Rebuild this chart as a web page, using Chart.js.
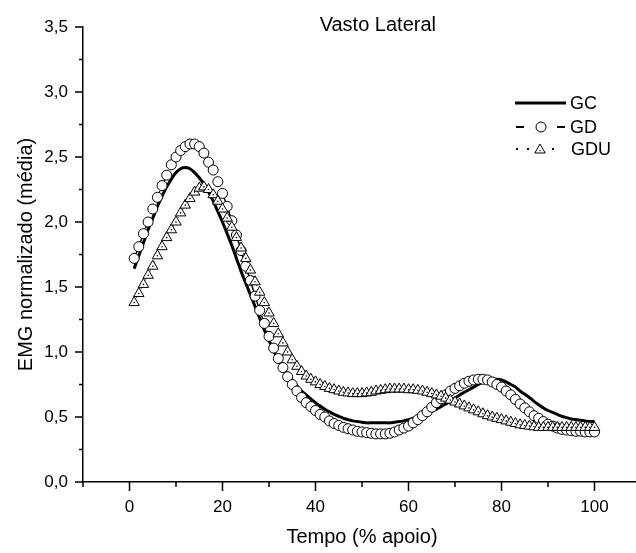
<!DOCTYPE html>
<html>
<head>
<meta charset="utf-8">
<script src="https://cdn.jsdelivr.net/npm/chart.js@4.4.1/dist/chart.umd.min.js"></script>
<style>
  html, body { margin: 0; padding: 0; background: #fff; overflow: hidden; }
  canvas { display: block; }
</style>
</head>
<body>
<canvas id="chart" width="656" height="553"></canvas>
<script>
const tempo = [1,2,3,4,5,6,7,8,9,10,11,12,13,14,15,16,17,18,19,20,
  21,22,23,24,25,26,27,28,29,30,31,32,33,34,35,36,37,38,39,40,
  41,42,43,44,45,46,47,48,49,50,51,52,53,54,55,56,57,58,59,60,
  61,62,63,64,65,66,67,68,69,70,71,72,73,74,75,76,77,78,79,80,
  81,82,83,84,85,86,87,88,89,90,91,92,93,94,95,96,97,98,99,100];

const gc = [1.64,1.74,1.84,1.94,2.03,2.12,2.20,2.27,2.33,2.38,
  2.41,2.42,2.41,2.38,2.34,2.29,2.23,2.16,2.08,2.00,
  1.91,1.82,1.72,1.62,1.53,1.44,1.35,1.26,1.17,1.09,
  1.01,0.94,0.88,0.83,0.78,0.74,0.70,0.67,0.64,0.61,
  0.585,0.56,0.54,0.52,0.505,0.49,0.48,0.47,0.465,0.46,
  0.455,0.455,0.455,0.455,0.455,0.455,0.46,0.465,0.47,0.48,
  0.49,0.50,0.51,0.53,0.545,0.56,0.58,0.60,0.62,0.645,
  0.67,0.69,0.71,0.73,0.75,0.77,0.78,0.79,0.79,0.785,
  0.77,0.75,0.73,0.70,0.675,0.65,0.62,0.595,0.57,0.55,
  0.535,0.52,0.505,0.495,0.485,0.48,0.475,0.47,0.465,0.465];

const gd = [1.72,1.81,1.91,2.00,2.10,2.19,2.28,2.36,2.44,2.50,
  2.55,2.58,2.60,2.60,2.58,2.53,2.46,2.40,2.31,2.22,
  2.12,2.01,1.90,1.78,1.66,1.55,1.43,1.32,1.22,1.12,
  1.03,0.95,0.88,0.81,0.75,0.70,0.65,0.61,0.58,0.55,
  0.52,0.50,0.47,0.45,0.435,0.42,0.41,0.40,0.39,0.385,
  0.38,0.375,0.37,0.37,0.37,0.375,0.385,0.40,0.415,0.43,
  0.455,0.48,0.51,0.54,0.575,0.61,0.64,0.67,0.70,0.72,
  0.74,0.76,0.775,0.785,0.79,0.79,0.785,0.77,0.75,0.73,
  0.70,0.67,0.635,0.60,0.57,0.54,0.51,0.49,0.465,0.445,
  0.43,0.415,0.405,0.40,0.395,0.39,0.39,0.385,0.385,0.385];

const gdu = [1.38,1.45,1.52,1.59,1.66,1.74,1.81,1.88,1.94,2.00,
  2.07,2.13,2.18,2.23,2.26,2.27,2.25,2.21,2.16,2.10,
  2.03,1.96,1.88,1.80,1.72,1.63,1.54,1.46,1.38,1.30,
  1.22,1.14,1.07,1.00,0.94,0.89,0.85,0.815,0.79,0.77,
  0.75,0.735,0.72,0.71,0.70,0.69,0.685,0.68,0.68,0.68,
  0.685,0.69,0.70,0.705,0.71,0.715,0.715,0.715,0.715,0.71,
  0.71,0.705,0.70,0.69,0.68,0.67,0.66,0.645,0.63,0.615,
  0.60,0.585,0.57,0.555,0.54,0.525,0.51,0.50,0.49,0.48,
  0.47,0.46,0.45,0.44,0.435,0.43,0.425,0.42,0.42,0.42,
  0.42,0.42,0.42,0.42,0.42,0.42,0.42,0.42,0.42,0.42];

const xTicks = { min: -10, max: 110, step: 10 };
const yTicks = { min: 0, max: 3.5, step: 0.25 };
const chartTitle = "Vasto Lateral";
const legendItems = ["GC", "GD", "GDU"];

const FONT = "'Liberation Sans', Arial, sans-serif";

function pts(values) {
  return tempo.map((t, i) => ({ x: t, y: values[i] }));
}

// tick marks drawn by hand: long on labelled values, short in between
const tickMarks = {
  id: "tickMarks",
  afterDraw(chart) {
    const ctx = chart.ctx;
    const xs = chart.scales.x, ys = chart.scales.y;
    const a = chart.chartArea;
    ctx.save();
    ctx.strokeStyle = "#000";
    ctx.lineWidth = 1.5;
    ctx.beginPath();
    xs.ticks.forEach((t) => {
      const px = xs.getPixelForValue(t.value);
      const len = t.value % 20 === 0 ? 9 : 5;
      ctx.moveTo(px, a.bottom);
      ctx.lineTo(px, a.bottom + len);
    });
    ys.ticks.forEach((t) => {
      const py = ys.getPixelForValue(t.value);
      const major = Math.abs(t.value * 2 - Math.round(t.value * 2)) < 1e-6;
      ctx.moveTo(a.left, py);
      ctx.lineTo(a.left - (major ? 8 : 4), py);
    });
    ctx.stroke();
    ctx.restore();
  },
};

// title inside plot + hand drawn legend
const decorations = {
  id: "decorations",
  afterDraw(chart) {
    const ctx = chart.ctx;
    const a = chart.chartArea;
    const xs = chart.scales.x;
    ctx.save();
    ctx.fillStyle = "#000";
    ctx.textBaseline = "middle";
    ctx.textAlign = "center";
    ctx.font = "20px " + FONT;
    ctx.fillText(chartTitle, xs.getPixelForValue(53.4), a.top - 2);

    const lx = a.left + 432;
    const rows = [a.top + 76, a.top + 100, a.top + 122];
    ctx.strokeStyle = "#000";

    // GC
    ctx.lineWidth = 3;
    ctx.beginPath();
    ctx.moveTo(lx, rows[0]);
    ctx.lineTo(lx + 51, rows[0]);
    ctx.stroke();

    // GD
    ctx.lineWidth = 2;
    ctx.beginPath();
    ctx.moveTo(lx + 1, rows[1]); ctx.lineTo(lx + 9, rows[1]);
    ctx.moveTo(lx + 42, rows[1]); ctx.lineTo(lx + 50, rows[1]);
    ctx.stroke();
    ctx.lineWidth = 1;
    ctx.beginPath();
    ctx.arc(lx + 26, rows[1], 5, 0, Math.PI * 2);
    ctx.stroke();

    // GDU
    [2, 13, 38].forEach((dx) => {
      ctx.fillRect(lx + dx - 1, rows[2] - 1, 2, 2);
    });
    const cx = lx + 25, cy = rows[2] + 1, r = 6;
    ctx.beginPath();
    ctx.moveTo(cx, cy - r);
    ctx.lineTo(cx + r * 0.866, cy + r / 2);
    ctx.lineTo(cx - r * 0.866, cy + r / 2);
    ctx.closePath();
    ctx.stroke();
    ctx.fillRect(cx - 0.5, cy, 1.2, 1.2);

    ctx.textAlign = "left";
    ctx.font = "18px " + FONT;
    legendItems.forEach((name, i) => {
      ctx.fillText(name, lx + 55 + (i === 2 ? 1 : 0), rows[i] + 1);
    });
    ctx.restore();
  },
};

new Chart(document.getElementById("chart"), {
  type: "line",
  data: {
    datasets: [
      {
        label: "GDU dots",
        data: pts(gdu),
        showLine: false,
        pointStyle: "circle",
        pointRadius: 0.8,
        pointBackgroundColor: "#000",
        pointBorderWidth: 0,
        order: 0,
      },
      {
        label: "GDU",
        data: pts(gdu),
        borderColor: "#000",
        borderWidth: 1,
        borderDash: [1, 4],
        pointStyle: "triangle",
        pointRadius: 6,
        pointBackgroundColor: "#fff",
        pointBorderColor: "#000",
        pointBorderWidth: 1,
        order: 1,
      },
      {
        label: "GD",
        data: pts(gd),
        borderColor: "#000",
        borderWidth: 1.5,
        borderDash: [8, 8],
        pointStyle: "circle",
        pointRadius: 5,
        pointBackgroundColor: "#fff",
        pointBorderColor: "#000",
        pointBorderWidth: 1,
        order: 2,
      },
      {
        label: "GC",
        data: pts(gc),
        borderColor: "#000",
        borderWidth: 3,
        pointRadius: 0,
        tension: 0.3,
        order: 3,
      },
    ],
  },
  options: {
    responsive: false,
    animation: false,
    events: [],
    layout: { padding: { top: 27, left: 0, right: 0, bottom: 0 } },
    plugins: {
      legend: { display: false },
      tooltip: { enabled: false },
      title: { display: false },
    },
    scales: {
      x: {
        type: "linear",
        min: xTicks.min,
        max: xTicks.max,
        afterFit: (s) => { s.height = 71; },
        border: { display: true, color: "#000", width: 1.5 },
        grid: { display: false, drawTicks: false },
        ticks: {
          stepSize: xTicks.step,
          autoSkip: false,
          maxRotation: 0,
          padding: 15,
          color: "#000",
          font: { family: FONT, size: 17 },
          callback: (v) => (v % 20 === 0 && v >= 0 && v <= 100 ? String(v) : ""),
        },
        title: {
          display: true,
          text: "Tempo (% apoio)",
          color: "#000",
          font: { family: FONT, size: 20 },
          padding: { top: 0, bottom: 4 },
        },
      },
      y: {
        min: yTicks.min,
        max: yTicks.max,
        afterFit: (s) => { s.width = 83; },
        border: { display: true, color: "#000", width: 1.5 },
        grid: { display: false, drawTicks: false },
        ticks: {
          stepSize: yTicks.step,
          autoSkip: false,
          padding: 15,
          color: "#000",
          font: { family: FONT, size: 17 },
          callback: (v) =>
            Math.abs(v * 2 - Math.round(v * 2)) < 1e-6 ? v.toFixed(1).replace(".", ",") : "",
        },
        title: {
          display: true,
          text: "EMG normalizado (média)",
          color: "#000",
          font: { family: FONT, size: 20 },
          padding: { top: 14, bottom: 0 },
        },
      },
    },
  },
  plugins: [tickMarks, decorations],
});
</script>
</body>
</html>
